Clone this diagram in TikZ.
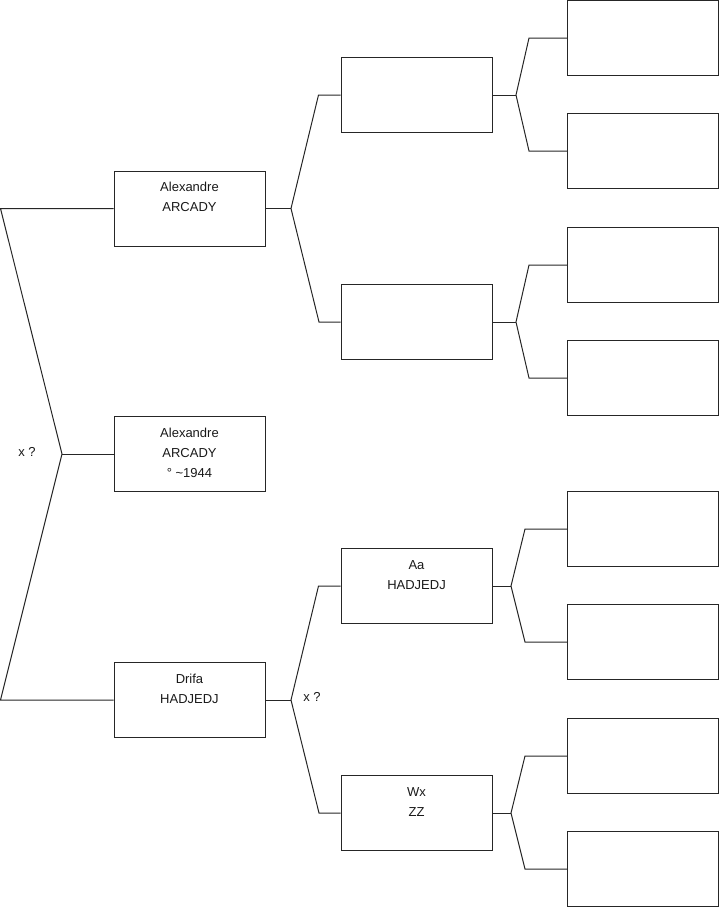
\documentclass[tikz,border=0pt]{standalone}
\usepackage{fontspec}
\setmainfont{Liberation Sans}
\begin{document}
\begin{tikzpicture}[x=1pt,y=-1pt,
  box/.style={draw=black!85,line width=1pt,minimum width=151pt,minimum height=75pt,inner sep=0pt},
  txt/.style={anchor=north,align=center,inner sep=0pt,font=\fontsize{13}{20}\selectfont,text=black!90},
  lbl/.style={inner sep=0pt,font=\fontsize{13}{20}\selectfont,text=black!90},
  conn/.style={draw=black!85,line width=1pt}]
\useasboundingbox (0,0) rectangle (719,908);
% generation 1
\node[box] (p1) at (189.5,208.5) {};
\node[box] (p0) at (189.5,454) {};
\node[box] (p2) at (189.5,700) {};
% generation 2
\node[box] (g1) at (416.5,95) {};
\node[box] (g2) at (416.5,322) {};
\node[box] (g3) at (416.5,586) {};
\node[box] (g4) at (416.5,813) {};
% generation 3
\node[box] (h1) at (643,38) {};
\node[box] (h2) at (643,151) {};
\node[box] (h3) at (643,265) {};
\node[box] (h4) at (643,378) {};
\node[box] (h5) at (643,529) {};
\node[box] (h6) at (643,642) {};
\node[box] (h7) at (643,756) {};
\node[box] (h8) at (643,869) {};
% texts
\node[txt] (t1) at ([yshift=-7pt]p1.north) {\strut Alexandre\\\strut ARCADY};
\node[txt] (t0) at ([yshift=-7pt]p0.north) {\strut Alexandre\\\strut ARCADY\\\strut ° \textasciitilde 1944};
\node[txt] (t2) at ([yshift=-7pt]p2.north) {\strut Drifa\\\strut HADJEDJ};
\node[txt] (t3) at ([yshift=-7pt]g3.north) {\strut Aa\\\strut HADJEDJ};
\node[txt] (t4) at ([yshift=-7pt]g4.north) {\strut Wx\\\strut ZZ};
\node[lbl] (x1) at (27,452) {x ?};
\node[lbl] (x2) at (312,697) {x ?};
% root fork
\coordinate (r1) at (0.5,208.5);
\coordinate (r2) at (0.5,700);
\coordinate (rv) at (62,454);
\draw[conn] (p1.west) -- (r1) -- (rv) -- (r2) -- (p2.west);
\draw[conn] (rv) -- (p0.west);
% gen1 -> gen2
\coordinate (v1) at (291,208.5);
\draw[conn] (p1.east) -- (v1);
\draw[conn] (g1.west) -- ++(-22,0) coordinate (e1) -- (v1) -- (319,322) coordinate (e2) -- (g2.west);
\coordinate (v2) at (291,700);
\draw[conn] (p2.east) -- (v2);
\draw[conn] (g3.west) -- ++(-22,0) coordinate (e3) -- (v2) -- (319,813) coordinate (e4) -- (g4.west);
% gen2 -> gen3
\coordinate (w1) at (516,95);
\draw[conn] (g1.east) -- (w1);
\draw[conn] (h1.west) -- ++(-38,0) -- (w1) -- (529,151) -- (h2.west);
\coordinate (w2) at (516,322);
\draw[conn] (g2.east) -- (w2);
\draw[conn] (h3.west) -- ++(-38,0) -- (w2) -- (529,378) -- (h4.west);
\coordinate (w3) at (511,586);
\draw[conn] (g3.east) -- (w3);
\draw[conn] (h5.west) -- ++(-42,0) -- (w3) -- (525,642) -- (h6.west);
\coordinate (w4) at (511,813);
\draw[conn] (g4.east) -- (w4);
\draw[conn] (h7.west) -- ++(-42,0) -- (w4) -- (525,869) -- (h8.west);
\end{tikzpicture}
\end{document}
